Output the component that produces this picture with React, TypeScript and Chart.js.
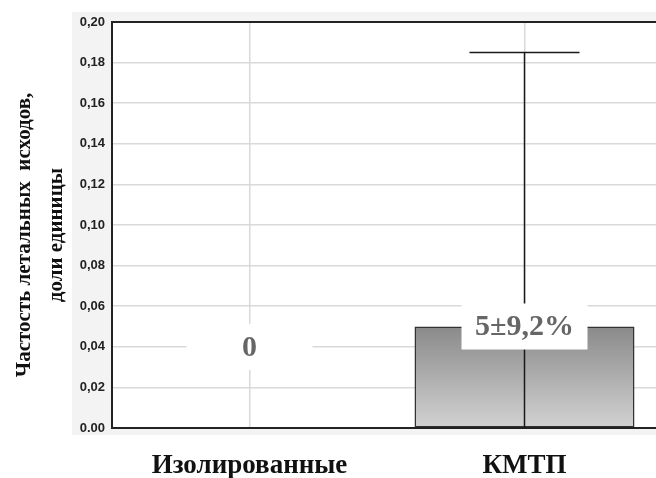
import React, { useEffect, useRef } from "react";
import { Chart, registerables } from "chart.js";

Chart.register(...registerables);

const categories = ["Изолированные", "КМТП"];
const values = [0, 0.05];
const errUpper: (number | null)[] = [null, 0.185];
const errLower: (number | null)[] = [null, -0.085];
const valueLabels = ["0", "5±9,2%"];
const labelLevels = [0.04, 0.05];
const yTicks = [0, 0.02, 0.04, 0.06, 0.08, 0.1, 0.12, 0.14, 0.16, 0.18, 0.2];
const yTickLabels = ["0.00", "0,02", "0,04", "0,06", "0,08", "0,10", "0,12", "0,14", "0,16", "0,18", "0,20"];
const yTitle = ["Частость летальных  исходов,", "доли единицы"];

const decorPlugin = {
  id: "decor",
  beforeDraw(chart: any) {
    const { ctx, chartArea, width, height } = chart;
    ctx.save();
    ctx.fillStyle = "#ffffff";
    ctx.fillRect(0, 0, width, height);
    ctx.fillStyle = "#f3f3f3";
    ctx.fillRect(chartArea.left - 40, chartArea.top - 10, width, chartArea.bottom - chartArea.top + 17);
    ctx.fillStyle = "#ffffff";
    ctx.fillRect(chartArea.left, chartArea.top, chartArea.right - chartArea.left, chartArea.bottom - chartArea.top);
    ctx.restore();
  },
  afterDatasetsDraw(chart: any) {
    const { ctx, chartArea, scales } = chart;
    const xs = scales.x;
    const ys = scales.y;
    ctx.save();
    ctx.strokeStyle = "#1a1a1a";
    ctx.lineWidth = 1.5;
    ctx.beginPath();
    ctx.rect(chartArea.left, chartArea.top, chartArea.right - chartArea.left, chartArea.bottom - chartArea.top);
    ctx.clip();
    categories.forEach((_, i) => {
      const up = errUpper[i];
      const lo = errLower[i];
      if (up == null || lo == null) return;
      const x = xs.getPixelForValue(i);
      const yU = ys.getPixelForValue(up);
      const yL = ys.getPixelForValue(lo);
      ctx.beginPath();
      ctx.moveTo(x, yU);
      ctx.lineTo(x, yL);
      ctx.moveTo(x - 55, yU);
      ctx.lineTo(x + 55, yU);
      ctx.stroke();
    });
    ctx.restore();

    ctx.save();
    ctx.strokeStyle = "#222";
    ctx.lineWidth = 2;
    ctx.beginPath();
    ctx.moveTo(chartArea.left - 1, chartArea.top);
    ctx.lineTo(chartArea.right, chartArea.top);
    ctx.stroke();
    ctx.restore();

    ctx.save();
    ctx.font = "bold 30px 'Liberation Serif', serif";
    ctx.textAlign = "center";
    ctx.textBaseline = "middle";
    valueLabels.forEach((t, i) => {
      const x = xs.getPixelForValue(i);
      const y = ys.getPixelForValue(labelLevels[i]);
      const w = ctx.measureText(t).width;
      const boxW = Math.max(w + 22, 126);
      ctx.fillStyle = "#ffffff";
      ctx.fillRect(x - boxW / 2, y - 23, boxW, 46);
      ctx.fillStyle = "#666666";
      ctx.fillText(t, x, y + 1);
    });
    ctx.restore();

    ctx.save();
    ctx.fillStyle = "#111";
    ctx.font = "bold 21px 'Liberation Serif', serif";
    ctx.textAlign = "center";
    ctx.textBaseline = "middle";
    const cy = (chartArea.top + chartArea.bottom) / 2 + 10;
    const xsTitle = [25, 57];
    yTitle.forEach((t, i) => {
      ctx.save();
      ctx.translate(xsTitle[i], cy);
      ctx.rotate(-Math.PI / 2);
      ctx.fillText(t, 0, 0);
      ctx.restore();
    });
    ctx.restore();
  },
};

export default function App() {
  const ref = useRef<HTMLCanvasElement | null>(null);
  useEffect(() => {
    document.body.style.overflow = "hidden";
    const canvas = ref.current;
    if (!canvas) return;
    const chart = new Chart(canvas, {
      type: "bar",
      data: {
        labels: categories,
        datasets: [
          {
            data: values,
            backgroundColor: (c: any) => {
              const { ctx, chartArea, scales } = c.chart;
              if (!chartArea) return "#aaa";
              const top = scales.y.getPixelForValue(values[c.dataIndex] || 0);
              const g = ctx.createLinearGradient(0, top, 0, chartArea.bottom);
              g.addColorStop(0, "#8a8a8a");
              g.addColorStop(1, "#d2d2d2");
              return g;
            },
            borderColor: "#333",
            borderWidth: 1.5,
            borderSkipped: false,
            barPercentage: 0.8,
            categoryPercentage: 1,
          },
        ],
      },
      options: {
        responsive: false,
        animation: false,
        layout: { padding: { top: 22, left: 0, right: 0, bottom: 0 } },
        plugins: { legend: { display: false }, tooltip: { enabled: false }, title: { display: false } },
        scales: {
          x: {
            grid: { display: true, offset: false, color: "#d9d9d9", lineWidth: 1.5, drawTicks: false },
            border: { display: true, color: "#222", width: 2 },
            ticks: {
              font: { family: "'Liberation Serif', serif", size: 27, weight: "bold" },
              color: "#111",
              padding: 22,
              maxRotation: 0,
            },
            afterFit: (s: any) => {
              s.height = 50;
            },
          },
          y: {
            min: 0,
            max: 0.2,
            afterBuildTicks: (s: any) => {
              s.ticks = yTicks.map((v) => ({ value: v }));
            },
            grid: { color: "#d9d9d9", lineWidth: 1.5, drawTicks: false },
            border: { display: true, color: "#222", width: 2 },
            ticks: {
              font: { family: "'Liberation Sans', sans-serif", size: 13, weight: "bold" },
              color: "#222",
              padding: 7,
              callback: (_v: any, i: number) => yTickLabels[i],
            },
            afterFit: (s: any) => {
              s.width = 112;
            },
          },
        },
      },
      plugins: [decorPlugin],
    } as any);
    return () => chart.destroy();
  }, []);
  return (
    <div style={{ position: "absolute", left: 0, top: 0, width: 662, height: 478 }}>
      <canvas ref={ref} width={662} height={478} />
    </div>
  );
}
